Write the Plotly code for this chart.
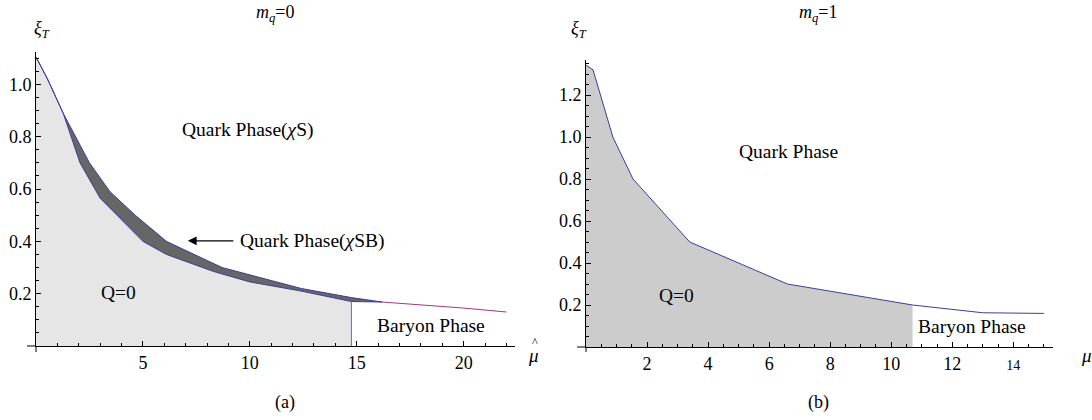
import plotly.graph_objects as go

# ---------------- data: panel (a), m_q = 0 ----------------
mu_upper = [0, 0.56, 1.27, 2.5, 3.46, 4.64, 6.1, 8.7, 12.4, 14.75, 16.2]
xi_upper = [1.105, 1.017, 0.89, 0.70, 0.59, 0.50, 0.40, 0.30, 0.22, 0.185, 0.168]
mu_lower = [0, 0.56, 1.27, 2.06, 3.0, 5.0, 6.1, 8.3, 10.0, 12.4, 14.75, 16.2]
xi_lower = [1.105, 1.017, 0.89, 0.70, 0.565, 0.40, 0.35, 0.285, 0.245, 0.21, 0.17, 0.168]
mu_tail = [16.2, 17.3, 20, 22]
xi_tail = [0.168, 0.162, 0.145, 0.13]
mu_baryon_a = 14.75

# ---------------- data: panel (b), m_q = 1 ----------------
mu_b = [0, 0.23, 0.88, 1.54, 3.4, 6.6, 10.7, 13.0, 15.0]
xi_b = [1.343, 1.32, 1.0, 0.80, 0.50, 0.30, 0.20, 0.163, 0.16]
mu_baryon_b = 10.7

xt_a = [5, 10, 15, 20]
yt_a = [0.2, 0.4, 0.6, 0.8, 1.0]
xt_b = [2, 4, 6, 8, 10, 12, 14]
yt_b = [0.2, 0.4, 0.6, 0.8, 1.0, 1.2]

FONT = "Liberation Serif"
BLUE = "#3c3c9c"
W, H = 1092, 420
TICK = 18
LAB = 19.5

fig = go.Figure()

# ---- panel (a) ----
qx = [m for m in mu_lower if m <= mu_baryon_a]
qy = [xi_lower[i] for i, m in enumerate(mu_lower) if m <= mu_baryon_a]
fig.add_trace(go.Scatter(x=qx + [mu_baryon_a, 0], y=qy + [0, 0], fill="toself",
                         fillcolor="#e6e6e6", line=dict(width=0), mode="lines",
                         hoverinfo="skip", xaxis="x", yaxis="y"))
bx = [m for m in mu_upper if m >= 1.27]
by = [xi_upper[i] for i, m in enumerate(mu_upper) if m >= 1.27]
lx = [m for m in mu_lower if m >= 1.27][::-1]
ly = [xi_lower[i] for i, m in enumerate(mu_lower) if m >= 1.27][::-1]
fig.add_trace(go.Scatter(x=bx + lx, y=by + ly, fill="toself", fillcolor="#666666",
                         line=dict(width=0), mode="lines", hoverinfo="skip",
                         xaxis="x", yaxis="y"))
fig.add_trace(go.Scatter(x=mu_upper, y=xi_upper, mode="lines",
                         line=dict(color=BLUE, width=1), xaxis="x", yaxis="y"))
fig.add_trace(go.Scatter(x=mu_lower, y=xi_lower, mode="lines",
                         line=dict(color=BLUE, width=1), xaxis="x", yaxis="y"))
fig.add_trace(go.Scatter(x=mu_tail, y=xi_tail, mode="lines",
                         line=dict(color="#a03a78", width=1), xaxis="x", yaxis="y"))
fig.add_trace(go.Scatter(x=[mu_baryon_a, mu_baryon_a], y=[0, xi_lower[-2]], mode="lines",
                         line=dict(color="#6a6ac0", width=1), xaxis="x", yaxis="y"))

# ---- panel (b) ----
gx = [m for m in mu_b if m <= mu_baryon_b]
gy = [xi_b[i] for i, m in enumerate(mu_b) if m <= mu_baryon_b]
fig.add_trace(go.Scatter(x=gx + [mu_baryon_b, 0], y=gy + [0, 0], fill="toself",
                         fillcolor="#cccccc", line=dict(width=0), mode="lines",
                         hoverinfo="skip", xaxis="x2", yaxis="y2"))
fig.add_trace(go.Scatter(x=mu_b, y=xi_b, mode="lines",
                         line=dict(color=BLUE, width=1), xaxis="x2", yaxis="y2"))

axis_common = dict(showline=True, linecolor="black", linewidth=1, ticks="inside",
                   ticklen=5, tickcolor="black", showgrid=False, zeroline=False,
                   tickfont=dict(family=FONT, size=TICK, color="black"))

fig.update_layout(
    width=W, height=H, margin=dict(l=0, r=0, t=0, b=0),
    paper_bgcolor="white", plot_bgcolor="white", showlegend=False,
    font=dict(family=FONT, size=TICK, color="black"),
    xaxis=dict(domain=[36 / W, 515 / W], range=[0, 22.4], anchor="y",
               tickvals=xt_a, ticktext=[str(v) for v in xt_a],
               minor=dict(dtick=1, ticklen=3, ticks="inside", tickcolor="black"),
               **axis_common),
    yaxis=dict(domain=[(H - 346) / H, (H - 52) / H], range=[0, 1.124], anchor="x",
               tickvals=yt_a, ticktext=[f"{v:.1f}" for v in yt_a],
               minor=dict(dtick=0.05, ticklen=3, ticks="inside", tickcolor="black"),
               **axis_common),
    xaxis2=dict(domain=[586 / W, 1053 / W], range=[0, 15.3], anchor="y2",
                tickvals=xt_b,
                ticktext=[str(v) if v != 14 else "<span style='font-size:14px'>14</span>" for v in xt_b],
                minor=dict(dtick=0.5, ticklen=3, ticks="inside", tickcolor="black"),
                **axis_common),
    yaxis2=dict(domain=[(H - 347) / H, (H - 60) / H], range=[0, 1.367], anchor="x2",
                tickvals=yt_b, ticktext=[f"{v:.1f}" for v in yt_b],
                minor=dict(dtick=0.05, ticklen=3, ticks="inside", tickcolor="black"),
                **axis_common),
)

# small axis-line overhangs past the origin (Mathematica style)
for (x0, x1, y0, y1) in [(27, 36, 346, 346), (36, 36, 346, 352),
                         (577, 586, 347, 347), (586, 586, 347, 352)]:
    fig.add_shape(type="line", xref="paper", yref="paper",
                  x0=x0 / W, x1=x1 / W, y0=1 - y0 / H, y1=1 - y1 / H,
                  line=dict(color="black", width=1))

def paper(text, px, py, size=LAB, xanchor="center"):
    fig.add_annotation(text=text, x=px / W, y=1 - py / H, xref="paper", yref="paper",
                       showarrow=False, xanchor=xanchor, yanchor="middle",
                       font=dict(family=FONT, size=size, color="black"))

def data(text, x, y, xr, yr, xanchor="center"):
    fig.add_annotation(text=text, x=x, y=y, xref=xr, yref=yr, showarrow=False,
                       xanchor=xanchor, yanchor="middle",
                       font=dict(family=FONT, size=LAB, color="black"))

# panel (a) texts
paper("<i>m<sub>q</sub></i>=0", 275, 13, size=18)
paper("<i>ξ<sub>T</sub></i>", 42, 30, size=18)
paper("(a)", 285, 402, size=18)
paper("<i>μ</i>", 533, 355, size=19)
paper("^", 535, 342, size=12)
data("Quark Phase(<i>χ</i>S)", 9.93, 0.826, "x", "y")
data("Quark Phase(<i>χ</i>SB)", 9.45, 0.402, "x", "y", xanchor="left")
data("Q=0", 3.84, 0.203, "x", "y")
data("Baryon Phase", 18.45, 0.08, "x", "y")
fig.add_annotation(x=7.1, y=0.402, ax=9.3, ay=0.402, xref="x", yref="y",
                   axref="x", ayref="y", showarrow=True, arrowhead=2, arrowsize=1.6,
                   arrowwidth=1.1, arrowcolor="black", text="")

# panel (b) texts
paper("<i>m<sub>q</sub></i>=1", 818, 13, size=18)
paper("<i>ξ<sub>T</sub></i>", 579, 30, size=18)
paper("(b)", 818, 402, size=18)
paper("<i>μ</i>", 1079, 355, size=19, xanchor="left")
data("Quark Phase", 6.62, 0.929, "x2", "y2")
data("Q=0", 2.95, 0.243, "x2", "y2")
data("Baryon Phase", 12.66, 0.10, "x2", "y2")

fig.write_html("out.html")
